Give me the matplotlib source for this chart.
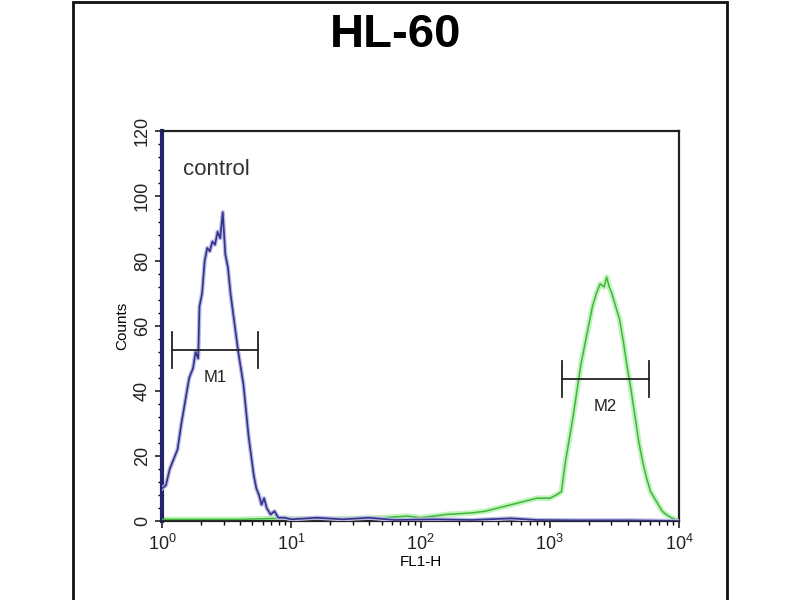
import matplotlib
matplotlib.use("Agg")
import matplotlib.pyplot as plt
import numpy as np
from matplotlib.ticker import MultipleLocator, LogLocator, NullFormatter
from matplotlib.patches import Rectangle

plt.rcParams['font.family'] = ['Liberation Sans', 'DejaVu Sans']

# control histogram (blue), log10 of FL1-H and counts
blue_log = [0.00, 0.03, 0.06, 0.09, 0.12, 0.15, 0.18, 0.21, 0.24, 0.26, 0.28, 0.29,
            0.31, 0.33, 0.35, 0.37, 0.39, 0.41, 0.43, 0.45, 0.47, 0.49, 0.51, 0.53,
            0.55, 0.57, 0.59, 0.61, 0.63, 0.65, 0.67, 0.69, 0.71, 0.73, 0.75, 0.77,
            0.79, 0.81, 0.84, 0.87, 0.90, 0.95, 1.00, 1.2, 1.4, 1.6, 1.8, 2.1, 2.4,
            2.7, 2.9, 3.2, 3.6, 4.0]
blue_counts = [10, 11, 16, 19, 22, 30, 37, 44, 47, 52, 50, 66,
               70, 80, 84, 83, 86, 85, 89, 87, 95, 82, 78, 70,
               64, 58, 52, 47, 42, 34, 26, 20, 14, 10, 8, 5,
               7, 4, 2, 3, 1, 1, 0.5, 1, 0.5, 1, 0.3, 0.5, 0.3,
               0.8, 0.3, 0.2, 0.2, 0]

# antibody histogram (green)
green_log = [0.0, 0.3, 0.6, 0.9, 1.2, 1.5, 1.7, 1.9, 2.0, 2.2, 2.4, 2.5, 2.6, 2.7,
             2.8, 2.9, 3.0, 3.05, 3.09, 3.12, 3.15, 3.18, 3.21, 3.24, 3.27, 3.30,
             3.33, 3.36, 3.39, 3.42, 3.44, 3.46, 3.48, 3.51, 3.54, 3.57, 3.60, 3.63,
             3.66, 3.69, 3.72, 3.75, 3.78, 3.81, 3.84, 3.87, 3.90, 3.94, 4.0]
green_counts = [0.5, 0.5, 0.5, 0.8, 0.5, 0.8, 1, 1.5, 1, 2, 2.5, 3, 4, 5,
                6, 7, 7, 8, 9, 18, 25, 32, 40, 48, 54, 60,
                66, 70, 73, 72, 75, 72, 70, 66, 62, 55, 47, 40,
                32, 24, 18, 13, 9, 7, 5, 3, 2, 1, 0]

# marker gates
gate_names = ['M1', 'M2']
gate_lo = [1.19, 1245]
gate_hi = [5.53, 5860]
gate_y = [52.6, 43.7]

fig = plt.figure(figsize=(8, 6), dpi=100)
ax = fig.add_axes([0.2025, 0.1317, 0.6463, 0.65])

gx = 10 ** np.array(green_log)
bx = 10 ** np.array(blue_log)
ax.plot(gx, green_counts, color='#c4f2bc', lw=4, zorder=2)
ax.plot(gx, green_counts, color='#3cb83c', lw=1.1, zorder=3)
ax.plot(bx, blue_counts, color='#b8b8e4', lw=3, zorder=4)
ax.plot(bx, blue_counts, color='#33338a', lw=1.2, zorder=5)

for name, lo, hi, y in zip(gate_names, gate_lo, gate_hi, gate_y):
    ax.plot([lo, hi], [y, y], color='#222222', lw=1.3, zorder=6)
    ax.plot([lo, lo], [y - 5.5, y + 5.5], color='#222222', lw=1.3, zorder=6)
    ax.plot([hi, hi], [y - 5.5, y + 5.5], color='#222222', lw=1.3, zorder=6)
    ax.text(np.sqrt(lo * hi), y - 8.5, name, ha='center', va='center',
            fontsize=12, color='#222222')

ax.text(1.45, 108, 'control', fontsize=16, color='#333333', va='center')

ax.set_xscale('log')
ax.set_xlim(1, 1e4)
ax.set_ylim(0, 120)
ax.yaxis.set_major_locator(MultipleLocator(20))
ax.yaxis.set_minor_locator(MultipleLocator(4))
ax.xaxis.set_major_locator(LogLocator(base=10, numticks=10))
ax.xaxis.set_minor_locator(LogLocator(base=10, subs=np.arange(2, 10), numticks=20))
ax.xaxis.set_minor_formatter(NullFormatter())

for lbl in ax.get_yticklabels():
    lbl.set_rotation(90)
    lbl.set_va('center')
ax.tick_params(axis='both', which='major', labelsize=13, length=5, width=1.2,
               colors='#222222')
ax.tick_params(axis='both', which='minor', length=3, width=1)
ax.tick_params(axis='x', pad=4)
ax.tick_params(axis='y', pad=3)

ax.set_xlabel('FL1-H', fontsize=11, labelpad=1)
ax.set_ylabel('Counts', fontsize=11, labelpad=3)

for side in ['top', 'right', 'bottom']:
    ax.spines[side].set_linewidth(1.6)
    ax.spines[side].set_color('#222222')
ax.spines['left'].set_linewidth(3)
ax.spines['left'].set_color('#24246e')

fig.text(0.494, 0.942, 'HL-60', fontsize=34, weight='bold', ha='center', va='center')

frame = Rectangle((73 / 800, -0.05), (727 - 73) / 800, 1.047, transform=fig.transFigure,
                  fill=False, lw=2, edgecolor='#111111', clip_on=False)
fig.patches.append(frame)

fig.savefig('out.png', dpi=100)
